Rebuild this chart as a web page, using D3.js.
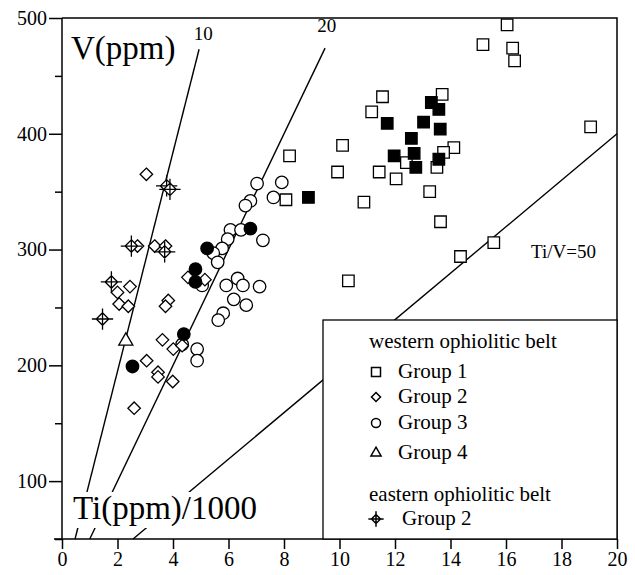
<!DOCTYPE html>
<html>
<head>
<meta charset="utf-8">
<script src="https://cdn.jsdelivr.net/npm/d3@7"></script>
<style>
  body { margin: 0; background: #fff; }
  svg text { font-family: "Liberation Serif", "DejaVu Serif", serif; fill: #000; }
</style>
</head>
<body>
<svg id="svg1" width="635" height="575"></svg>
<script>
'use strict'

// data: [Ti(ppm)/1000, V(ppm)]
const group1Open = [[11.55,432],[11.16,419],[13.7,434],[10.11,390],[14.12,388],[13.75,384],[9.93,367],
  [11.43,367],[12.04,361],[12.41,375],[13.51,371],[13.25,350],[10.88,341],[13.64,324],[14.36,294],
  [10.32,273],[15.56,306],[8.2,381],[8.07,343],[16.04,494],[15.17,477],[16.24,474],[16.31,463],[19.05,406]];
const group1Filled = [[11.72,409],[13.31,427],[13.58,421],[13.03,410],[13.63,404],[12.59,396],
  [11.97,381],[12.69,383],[12.75,371],[13.58,378],[8.88,345]];
const group2West = [[3.04,365],[2.72,303],[3.34,303],[3.73,303],[2.45,268],[2.0,263],[2.06,253],
  [2.39,251],[3.83,256],[3.73,251],[3.62,222],[3.05,204],[3.46,194],[3.46,190],[3.99,186],[4.01,214],
  [4.33,217],[2.6,163],[4.54,276],[5.15,274]];
const group3Open = [[7.03,357],[7.92,358],[6.79,342],[6.61,338],[7.62,345],[6.07,317],[6.45,317],
  [5.97,309],[7.24,308],[5.77,301],[5.45,297],[5.61,289],[5.05,269],[5.92,269],[6.33,275],[6.52,269],
  [7.12,268],[6.19,257],[6.64,252],[5.81,245],[5.63,239],[4.87,214],[4.87,204],[4.33,218]];
const group3Filled = [[6.79,318],[5.23,301],[4.81,283],[4.81,272],[2.54,199],[4.39,227]];
const group4West = [[2.3,221]];
const group2East = [[3.77,355],[3.89,352],[2.5,303],[3.7,298],[1.78,272],[1.46,240]];

// Ti/V reference lines, ends as drawn in the picture
const ratioLabels = ["10", "20", "Ti/V=50"];
const ratioFrom = [[0.47, 50], [1.0, 50], [2.56, 50]];
const ratioTo = [[4.94, 473], [9.48, 474], [20, 400]];
const ratioLabelAt = [[4.75, 481], [9.2, 488], [16.9, 293]];

const xTicks = [0, 2, 4, 6, 8, 10, 12, 14, 16, 18, 20];
const yTicks = [100, 200, 300, 400, 500];
const yMinorTicks = [50, 150, 250, 350, 450];

const legendItems = [
  {label: "western ophiolitic belt", kind: "head"},
  {label: "Group 1", kind: "square"},
  {label: "Group 2", kind: "diamond"},
  {label: "Group 3", kind: "circle"},
  {label: "Group 4", kind: "triangle"},
  {label: "eastern ophiolitic belt", kind: "head"},
  {label: "Group 2", kind: "cross"}
];

/**
 * @function
 * @description build a path for one marker kind, centred at 0,0
 */
function markerPath(kind, s) {
  if (kind === "square") return d3.symbol(d3.symbolSquare, s * s)();
  if (kind === "circle") return d3.symbol(d3.symbolCircle, Math.PI * s * s / 4)();
  if (kind === "triangle") return d3.symbol(d3.symbolTriangle, s * s * 0.55)();
  let h = s / 2;
  let diamond = `M0,${-h}L${h},0L0,${h}L${-h},0Z`;
  if (kind === "diamond") return diamond;
  // diamond with a cross through it
  let c = h * 1.7;
  return diamond + `M0,${-c}V${c}M${-c},0H${c}`;
}

function showGraph() {
  let svg = d3.select("#svg1");
  let left = 62, right = 617, top = 18, bottom = 539;

  let x = d3.scaleLinear().domain([0, 20]).range([left, right]);
  let y = d3.scaleLinear().domain([50, 500]).range([bottom, top]);

  // Ti/V ratio lines
  svg.append("g").selectAll("line")
    .data(ratioLabels)
    .enter().append("line")
      .attr("x1", (d, i) => x(ratioFrom[i][0]))
      .attr("y1", (d, i) => y(ratioFrom[i][1]))
      .attr("x2", (d, i) => x(ratioTo[i][0]))
      .attr("y2", (d, i) => y(ratioTo[i][1]))
      .attr("stroke", "#000").attr("stroke-width", 1.4);

  svg.append("g").selectAll("text")
    .data(ratioLabels)
    .enter().append("text")
      .attr("x", (d, i) => x(ratioLabelAt[i][0]))
      .attr("y", (d, i) => y(ratioLabelAt[i][1]))
      .attr("font-size", 19)
      .text(d => d);

  // axis titles (white box under the Ti label cuts the lines)
  svg.append("rect").attr("x", 70).attr("y", 492).attr("width", 188).attr("height", 36).attr("fill", "#fff");
  svg.append("text").attr("x", 73).attr("y", 519).attr("font-size", 33).text("Ti(ppm)/1000");
  svg.append("text").attr("x", 71).attr("y", 59).attr("font-size", 33).text("V(ppm)");

  // axes
  svg.append("g")
    .attr("transform", `translate(0,${bottom})`)
    .call(d3.axisBottom(x).tickValues(xTicks).tickSize(10).tickPadding(3).tickFormat(d3.format("d")))
    .call(g => g.select(".domain").attr("d", `M${left - 8},0H${right}`))
    .attr("font-family", "Liberation Serif").attr("font-size", 20);
  svg.append("g")
    .attr("transform", `translate(${left},0)`)
    .call(d3.axisLeft(y).tickValues(yTicks).tickSize(13).tickPadding(2).tickFormat(d3.format("d")))
    .call(g => g.select(".domain").attr("d", `M0,${top}V${bottom}`))
    .attr("font-family", "Liberation Serif").attr("font-size", 20);
  svg.append("g")
    .attr("transform", `translate(${left},0)`)
    .call(d3.axisLeft(y).tickValues(yMinorTicks).tickSize(7).tickFormat(""))
    .call(g => g.select(".domain").remove());
  svg.selectAll(".domain, .tick line").attr("stroke-width", 1.5);

  // frame top and right
  svg.append("path")
    .attr("d", `M${left},${top}H${right}V${bottom}`)
    .attr("fill", "none").attr("stroke", "#000").attr("stroke-width", 1.5);

  // points
  let series = [
    {data: group3Open, kind: "circle", fill: "#fff"},
    {data: group2West, kind: "diamond", fill: "#fff"},
    {data: group3Filled, kind: "circle", fill: "#000"},
    {data: group4West, kind: "triangle", fill: "#fff"},
    {data: group2East, kind: "cross", fill: "#fff"},
    {data: group1Open, kind: "square", fill: "#fff"},
    {data: group1Filled, kind: "square", fill: "#000"}
  ];
  series.forEach(s => {
    svg.append("g").selectAll("path")
      .data(s.data)
      .enter().append("path")
        .attr("transform", d => `translate(${x(d[0])},${y(d[1])})`)
        .attr("d", markerPath(s.kind, s.kind === "square" ? 11.5 : 12.5))
        .attr("fill", s.fill)
        .attr("stroke", "#000")
        .attr("stroke-width", 1.3);
  });

  // legend
  let lg = svg.append("g");
  lg.append("rect")
    .attr("x", 323).attr("y", 320).attr("width", right - 323).attr("height", bottom - 320)
    .attr("fill", "#fff").attr("stroke", "#000").attr("stroke-width", 1.3);
  let rows = [348, 378, 403, 429, 459, 501, 525];
  legendItems.forEach((item, i) => {
    if (item.kind === "head") {
      lg.append("text").attr("x", 369).attr("y", rows[i]).attr("font-size", 21).text(item.label);
      return;
    }
    lg.append("path")
      .attr("transform", `translate(376,${rows[i] - 6})`)
      .attr("d", markerPath(item.kind, 9))
      .attr("fill", "#fff").attr("stroke", "#000").attr("stroke-width", 1.5);
    lg.append("text").attr("x", item.kind === "cross" ? 402 : 398).attr("y", rows[i])
      .attr("font-size", 21).text(item.label);
  });
}

showGraph();
</script>
</body>
</html>
